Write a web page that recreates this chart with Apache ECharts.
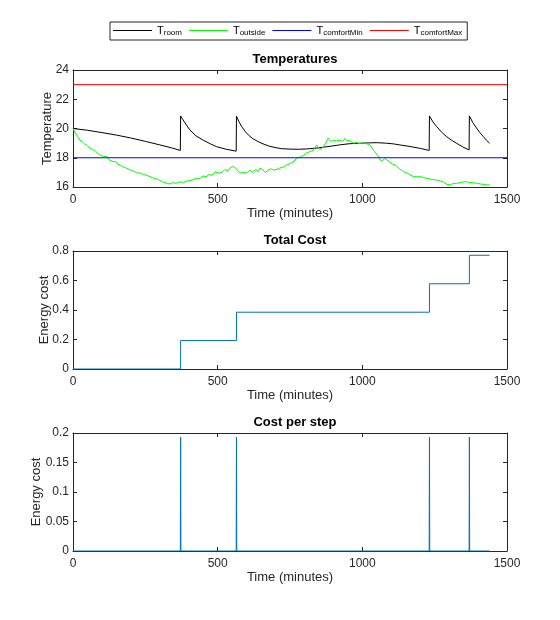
<!DOCTYPE html>
<html>
<head>
<meta charset="utf-8">
<script src="https://cdn.jsdelivr.net/npm/echarts@6/dist/echarts.min.js"></script>
<style>html,body{margin:0;padding:0;background:#fff}#c{width:560px;height:620px}</style>
</head>
<body>
<div id="c"></div>
<script>
// ---- data ----
const roomTemp = [[0,20.0],[50,19.88],[100,19.72],[150,19.55],[200,19.35],[250,19.12],[300,18.88],[340,18.68],[371,18.5],
  [372,20.86],[380,20.6],[392,20.24],[404,19.9],[425,19.5],[450,19.2],[475,18.95],[497,18.75],[530,18.58],[564,18.45],
  [565,20.84],[574,20.45],[583,20.13],[595,19.8],[606,19.56],[622,19.3],[640,19.1],[657,18.95],[675,18.81],[698,18.7],[721,18.62],[750,18.59],[779,18.58],[806,18.6],[836,18.65],[865,18.72],[894,18.8],[922,18.88],[951,18.95],[975,18.98],[1000,19.0],[1025,19.02],[1050,19.03],[1080,19.0],[1107,18.95],[1135,18.86],[1165,18.77],[1200,18.64],[1231,18.5],
  [1232,20.86],[1244,20.45],[1257,20.13],[1274,19.75],[1291,19.45],[1308,19.2],[1326,18.99],[1346,18.75],[1369,18.53],
  [1370,20.86],[1382,20.4],[1395,20.02],[1406,19.72],[1418,19.45],[1429,19.2],[1440,18.99]];
const outsideTemp = [[0,20.0],[8,19.7],[16,19.45],[24,19.2],[32,19.1],[40,18.95],[48,18.85],[59,18.65],[68,18.55],[76,18.5],[85,18.3],[95,18.2],[105,18.07],[115,18.1],[125,17.85],[132,17.8],[139,17.73],[147,17.75],[155,17.55],[163,17.5],[172,17.4],[185,17.28],[195,17.2],[205,17.1],[213,17.05],[220,16.98],[232,16.95],[245,16.85],[255,16.8],[266,16.71],[278,16.6],[290,16.55],[300,16.45],[310,16.35],[318,16.3],[324,16.25],[335,16.2],[345,16.3],[355,16.25],[370,16.36],[382,16.3],[392,16.4],[404,16.43],[415,16.5],[425,16.6],[435,16.55],[450,16.75],[460,16.7],[470,16.85],[480,16.8],[491,17.05],[497,16.94],[505,16.95],[515,17.0],[525,17.2],[535,17.1],[545,17.35],[554,17.39],[562,17.3],[570,17.1],[577,16.94],[590,17.0],[600,16.95],[612,17.15],[620,17.0],[632,17.2],[640,17.05],[646,17.28],[655,17.2],[665,17.0],[675,17.15],[685,17.25],[692,17.16],[705,17.2],[715,17.3],[725,17.35],[738,17.5],[750,17.6],[760,17.7],[773,17.96],[785,18.05],[795,18.15],[805,18.3],[819,18.42],[830,18.5],[836,18.6],[842,18.88],[850,18.65],[858,18.6],[865,18.76],[872,18.95],[882,19.33],[890,19.1],[900,19.2],[910,19.15],[923,19.2],[932,19.1],[940,19.33],[948,19.15],[955,19.2],[969,18.99],[980,19.05],[992,18.95],[1000,19.05],[1015,18.95],[1025,18.9],[1038,18.53],[1048,18.3],[1055,18.1],[1061,17.85],[1070,17.8],[1078,17.95],[1084,17.9],[1095,17.7],[1105,17.55],[1115,17.5],[1125,17.3],[1135,17.15],[1142,17.05],[1155,16.95],[1165,16.85],[1176,16.71],[1190,16.7],[1205,16.7],[1220,16.6],[1235,16.55],[1245,16.5],[1257,16.48],[1270,16.4],[1280,16.35],[1290,16.2],[1303,16.14],[1315,16.25],[1325,16.25],[1340,16.3],[1350,16.35],[1361,16.36],[1370,16.3],[1382,16.3],[1395,16.25],[1410,16.2],[1420,16.18],[1430,16.15],[1441,16.14]];
const comfortMin = [[0,18],[1500,18]];
const comfortMax = [[0,23],[1500,23]];
const totalCost = [[0,0],[372,0.193],[565,0.385],[1232,0.578],[1370,0.771],[1440,0.771]];
const stepCost = [[0,0],[371,0],[372,0.193],[373,0],[564,0],[565,0.193],[566,0],[1231,0],[1232,0.193],[1233,0],[1369,0],[1370,0.193],[1371,0],[1440,0]];
const titles = ['Temperatures','Total Cost','Cost per step'];
const yNames = ['Temperature','Energy cost','Energy cost'];
const xName = 'Time (minutes)';
const legendNames = ['Troom','Toutside','TcomfortMin','TcomfortMax'];
const legendSubs = {Troom:'room',Toutside:'outside',TcomfortMin:'comfortMin',TcomfortMax:'comfortMax'};

// ---- layout ----
const FONT = '"Liberation Sans", Arial, Helvetica, sans-serif';
const TXT = '#262626';
const grids = [
  {left:73, width:434, top:70, height:117},
  {left:73, width:434, top:251, height:118},
  {left:73, width:434, top:433, height:118}
];
const yRanges = [{min:16,max:24,interval:2},{min:0,max:0.8,interval:0.2},{min:0,max:0.2,interval:0.05}];
const yGaps = [19,22,30];

const xAxes = [], yAxes = [];
const plain = v => String(v);
grids.forEach((g,i)=>{
  xAxes.push({type:'value',gridIndex:i,min:0,max:1500,interval:500,position:'bottom',
    name:xName,nameLocation:'middle',nameGap:20,nameMoveOverlap:false,nameTextStyle:{fontFamily:FONT,fontSize:13,color:TXT},
    axisLine:{show:true,onZero:false,lineStyle:{color:TXT,width:1}},
    axisTick:{show:true,inside:true,length:4,lineStyle:{color:TXT}},
    axisLabel:{fontFamily:FONT,fontSize:12,color:TXT,margin:7,formatter:plain},splitLine:{show:false}});
  xAxes.push({type:'value',gridIndex:i,min:0,max:1500,interval:500,position:'top',
    axisLine:{show:true,onZero:false,lineStyle:{color:TXT,width:1}},
    axisTick:{show:true,inside:true,length:4,lineStyle:{color:TXT}},
    axisLabel:{show:false},splitLine:{show:false}});
  const r = yRanges[i];
  yAxes.push({type:'value',gridIndex:i,min:r.min,max:r.max,interval:r.interval,position:'left',
    name:yNames[i],nameLocation:'middle',nameGap:yGaps[i],nameRotate:90,nameMoveOverlap:false,nameTextStyle:{fontFamily:FONT,fontSize:13,color:TXT},
    axisLine:{show:true,onZero:false,lineStyle:{color:TXT,width:1}},
    axisTick:{show:true,inside:true,length:4,lineStyle:{color:TXT}},
    axisLabel:{fontFamily:FONT,fontSize:12,color:TXT,margin:4,formatter:plain},splitLine:{show:false}});
  yAxes.push({type:'value',gridIndex:i,min:r.min,max:r.max,interval:r.interval,position:'right',
    axisLine:{show:true,onZero:false,lineStyle:{color:TXT,width:1}},
    axisTick:{show:true,inside:true,length:4,lineStyle:{color:TXT}},
    axisLabel:{show:false},splitLine:{show:false}});
});

function line(name, data, color, gi, extra){
  return Object.assign({type:'line',name:name,data:data,xAxisIndex:gi*2,yAxisIndex:gi*2,
    symbol:'none',showSymbol:false,animation:false,lineStyle:{color:color,width:1},itemStyle:{color:color}},extra||{});
}

const option = {
  backgroundColor:'#fff',
  animation:false,
  title: titles.map((t,i)=>({text:t,left:290,textAlign:'center',top:grids[i].top-22,
    textStyle:{fontFamily:FONT,fontSize:13,fontWeight:'bold',color:'#000'}})),
  legend:{data:legendNames,top:22,left:110,orient:'horizontal',
    icon:'path://M0,0H40V1H0Z',
    borderColor:'#262626',borderWidth:1,padding:[3,5,3,3],itemGap:7,itemWidth:39,itemHeight:1,
    formatter:n=>'{t|T}{s|'+legendSubs[n]+'}',
    textStyle:{fontFamily:FONT,color:'#000',rich:{t:{fontSize:11,fontFamily:FONT,color:'#000'},s:{fontSize:8,fontFamily:FONT,color:'#000',padding:[5,0,0,0]}}}},
  grid:grids,
  xAxis:xAxes,
  yAxis:yAxes,
  series:[
    line('Troom',roomTemp,'#000000',0),
    line('Toutside',outsideTemp,'#00ff00',0),
    line('TcomfortMin',comfortMin,'#0000ff',0),
    line('TcomfortMax',comfortMax,'#ff0000',0),
    line('Total',totalCost,'#0072bd',1,{step:'end'}),
    line('Step',stepCost,'#0072bd',2)
  ]
};
const chart = echarts.init(document.getElementById('c'),null,{renderer:'canvas'});
chart.setOption(option);
</script>
</body>
</html>
